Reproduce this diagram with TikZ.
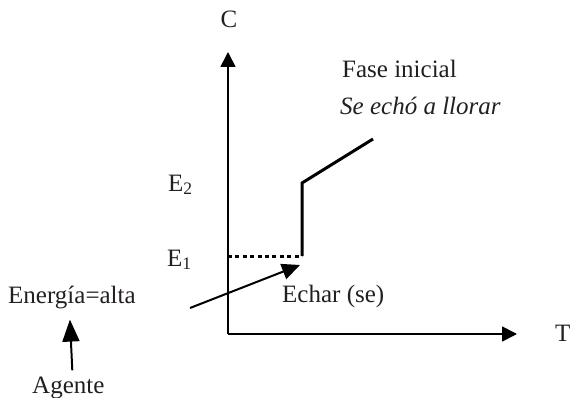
\documentclass[tikz,border=0pt]{standalone}
\usepackage{fontspec}
\setmainfont{Liberation Serif}
\usepackage{tikz}
\usetikzlibrary{arrows.meta,positioning}
\definecolor{inktext}{HTML}{231F20}
\tikzset{
  axis/.style={line width=1.7pt,-{Triangle[length=15pt,width=15pt]}},
  stepline/.style={line width=3pt},
  dotline/.style={line width=3pt,dash pattern=on 4pt off 3.4pt},
  arrow/.style={line width=2pt,-{Triangle[length=18pt,width=16pt]}},
  label/.style={inner sep=0pt,text=inktext,font=\fontsize{25}{30}\selectfont}
}
\begin{document}
\begin{tikzpicture}[x=1pt,y=1pt]
  \useasboundingbox (0,0) rectangle (572,-398);
  % Axes
  \coordinate (origin) at (228,-334);
  \coordinate (ctop) at (228,-52);
  \coordinate (tend) at (517,-334);
  \draw[axis] (origin) -- (ctop);
  \draw[axis] (origin) -- (tend);
  \node[label,anchor=base] (clabel) at (229,-28) {C};
  \node[label,anchor=base west] (tlabel) at (555,-341) {T};

  % Levels
  \node[label,anchor=base west] (etwo) at (168,-191) {E\textsubscript{2}};
  \node[label,anchor=base west] (eone) at (167,-266) {E\textsubscript{1}};

  % Path of the change
  \coordinate (eonestart) at (228,-256);
  \coordinate (jumpbase) at (302,-256);
  \coordinate (jumptop) at (302,-183);
  \coordinate (phaseend) at (373,-139);
  \draw[dotline] (eonestart) -- (jumpbase);
  \draw[stepline] (jumpbase) -- (jumptop) -- (phaseend);

  % Phase labels
  \node[label,anchor=base west] (fase) at (342,-78) {Fase inicial};
  \node[label,anchor=base west,font=\fontsize{25}{30}\selectfont\itshape] (llorar) at (340,-115) {Se echó a llorar};

  % Verb and agent
  \node[label,anchor=base west] (echar) at (282,-302) {Echar (se)};
  \node[label,anchor=base west] (energia) at (8,-303) {Energía=alta};
  \node[label,anchor=base west] (agente) at (32,-393) {Agente};
  \coordinate (verbtail) at (190,-308);
  \coordinate (verbtip) at (300,-265);
  \draw[arrow] (verbtail) -- (verbtip);
  \draw[arrow,-{Triangle[length=22pt,width=17pt]}] ([xshift=4pt,yshift=6pt]agente.north) -- ([xshift=-2pt,yshift=-11pt]energia.south);
\end{tikzpicture}
\end{document}
